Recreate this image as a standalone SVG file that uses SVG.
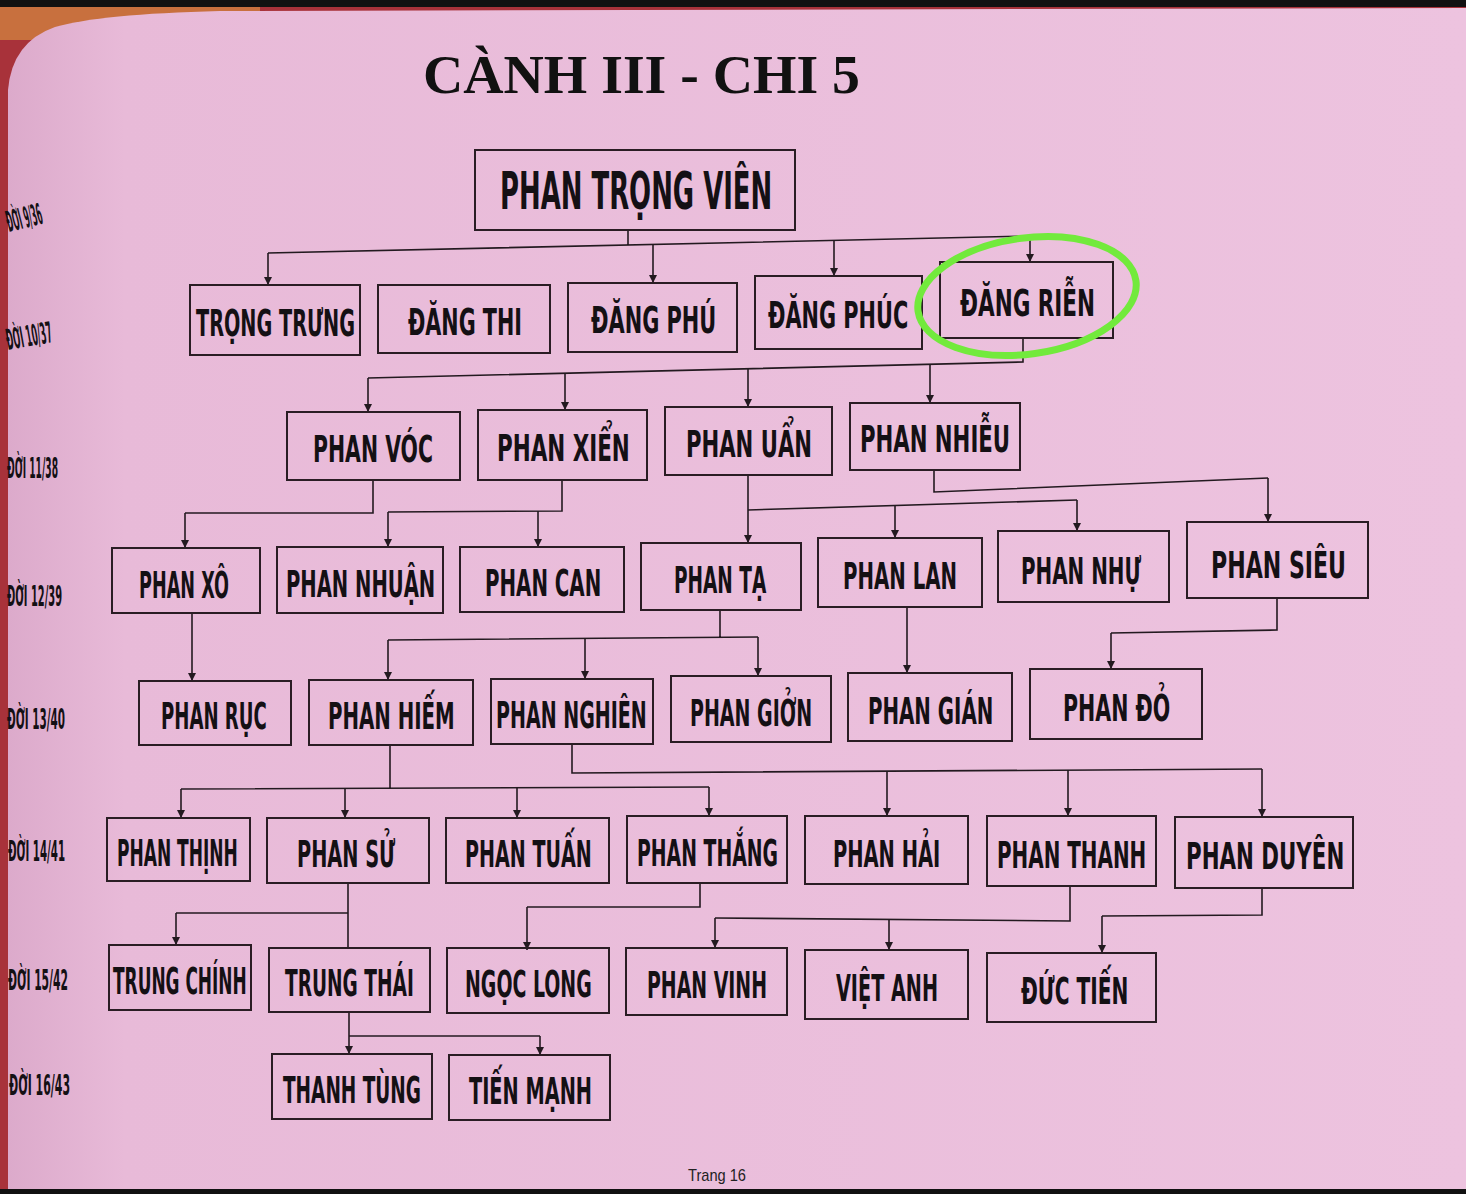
<svg xmlns="http://www.w3.org/2000/svg" width="1466" height="1194" viewBox="0 0 1466 1194">
<defs>
<style>
.box{fill:none;stroke:#2a1d24;stroke-width:2}
.n{font-family:"Liberation Sans Narrow","DejaVu Sans Condensed","Liberation Sans",sans-serif;font-weight:bold;font-size:37px;fill:#141014}
.g{font-family:"Liberation Sans Narrow","DejaVu Sans Condensed","Liberation Sans",sans-serif;font-weight:bold;font-size:29px;fill:#141014}
.c{fill:none;stroke:#231a20;stroke-width:1.6}
.a{fill:none;stroke:#231a20;stroke-width:1.6;marker-end:url(#ah)}
</style>
<marker id="ah" markerUnits="userSpaceOnUse" markerWidth="8" markerHeight="8" refX="8" refY="4" orient="auto">
<path d="M0,0 L8,4 L0,8 z" fill="#231a20"/>
</marker>
<linearGradient id="pg" x1="0" y1="0" x2="1" y2="0">
<stop offset="0" stop-color="#dcaacb"/>
<stop offset="0.08" stop-color="#e8bad8"/>
<stop offset="1" stop-color="#edc3df"/>
</linearGradient>
</defs>
<rect x="0" y="0" width="1466" height="1194" fill="#a8323a"/>
<path d="M0,0 H260 V40 H0 z" fill="#c8703e"/>
<path d="M8,1194 V90 Q12,42 55,27 Q100,14 220,11 L1466,8 V1194 z" fill="url(#pg)"/>
<rect x="0" y="0" width="1466" height="7" fill="#111"/>
<rect x="0" y="1189" width="1466" height="5" fill="#111"/>

<text x="423" y="93" textLength="437" lengthAdjust="spacingAndGlyphs" style="font-family:'Liberation Serif',serif;font-weight:bold;font-size:54px;fill:#111">CÀNH III - CHI 5</text>

<g id="labels">
<text class="g" transform="translate(9,232) rotate(-14) scale(0.5 1)" textLength="72" lengthAdjust="spacingAndGlyphs">ĐỜI 9/36</text>
<text class="g" transform="translate(8,350) rotate(-10) scale(0.5 1)" textLength="92" lengthAdjust="spacingAndGlyphs">ĐỜI 10/37</text>
<text class="g" transform="translate(7,478) scale(0.5 1)" textLength="102" lengthAdjust="spacingAndGlyphs">ĐỜI 11/38</text>
<text class="g" transform="translate(7,606) scale(0.5 1)" textLength="110" lengthAdjust="spacingAndGlyphs">ĐỜI 12/39</text>
<text class="g" transform="translate(7,729) scale(0.5 1)" textLength="116" lengthAdjust="spacingAndGlyphs">ĐỜI 13/40</text>
<text class="g" transform="translate(8,861) scale(0.5 1)" textLength="114" lengthAdjust="spacingAndGlyphs">ĐỜI 14/41</text>
<text class="g" transform="translate(8,990) scale(0.5 1)" textLength="120" lengthAdjust="spacingAndGlyphs">ĐỜI 15/42</text>
<text class="g" transform="translate(9,1095) scale(0.5 1)" textLength="122" lengthAdjust="spacingAndGlyphs">ĐỜI 16/43</text>
</g>

<g id="connectors">
<path class="c" d="M628,230 V245 M268,253 L1030,236"/>
<path class="a" d="M268,253 V285"/>
<path class="a" d="M653,244 V283"/>
<path class="a" d="M834,240 V276"/>
<path class="a" d="M1030,236 V262"/>

<path class="c" d="M1023,338 V362 L368,378"/>
<path class="a" d="M368,378 V412"/>
<path class="a" d="M565,373 V410"/>
<path class="a" d="M748,369 V407"/>
<path class="a" d="M930,364 V403"/>

<path class="c" d="M373,480 V513 H185"/>
<path class="a" d="M185,513 V548"/>
<path class="c" d="M562,480 V511 L388,512"/>
<path class="a" d="M388,512 V547"/>
<path class="a" d="M538,511 V547"/>
<path class="a" d="M748,475 V543"/>
<path class="c" d="M748,510 L1077,500"/>
<path class="a" d="M895,506 V538"/>
<path class="a" d="M1077,500 V531"/>
<path class="c" d="M934,470 V492 L1268,478"/>
<path class="a" d="M1268,478 V522"/>

<path class="a" d="M192,613 V681"/>
<path class="c" d="M720,610 V638 M388,640 L758,637"/>
<path class="a" d="M388,640 V680"/>
<path class="a" d="M585,638 V679"/>
<path class="a" d="M758,637 V676"/>
<path class="a" d="M907,607 V673"/>
<path class="c" d="M1277,598 V630 L1111,633"/>
<path class="a" d="M1111,633 V669"/>

<path class="c" d="M390,745 V789 M181,789 L709,787"/>
<path class="a" d="M181,789 V818"/>
<path class="a" d="M345,789 V818"/>
<path class="a" d="M517,788 V818"/>
<path class="a" d="M709,787 V816"/>
<path class="c" d="M572,744 V773 L1262,769"/>
<path class="a" d="M887,771 V816"/>
<path class="a" d="M1068,770 V816"/>
<path class="a" d="M1262,769 V817"/>

<path class="c" d="M348,883 V948 M348,913 H176"/>
<path class="a" d="M176,913 V945"/>
<path class="c" d="M700,883 V907 H527"/>
<path class="a" d="M527,907 V950"/>
<path class="c" d="M1070,886 V921 L715,918"/>
<path class="a" d="M715,918 V948"/>
<path class="a" d="M889,919 V950"/>
<path class="c" d="M1262,888 V915 L1102,916"/>
<path class="a" d="M1102,916 V953"/>

<path class="a" d="M349,1012 V1054"/>
<path class="c" d="M349,1036 H540"/>
<path class="a" d="M540,1036 V1055"/>
</g>

<g id="n-root"><rect class="box" x="475" y="150" width="320" height="80"/><text class="n" style="font-size:52px" transform="translate(500,209) scale(0.75 1)" textLength="363" lengthAdjust="spacingAndGlyphs">PHAN TRỌNG VIÊN</text></g>

<g id="n-trongtrung"><rect class="box" x="190" y="285" width="170" height="70"/><text class="n" transform="translate(196,336) scale(0.75 1)" textLength="212" lengthAdjust="spacingAndGlyphs">TRỌNG TRƯNG</text></g>
<g id="n-dangthi"><rect class="box" x="378" y="285" width="172" height="68"/><text class="n" transform="translate(408,335) scale(0.75 1)" textLength="152" lengthAdjust="spacingAndGlyphs">ĐĂNG THI</text></g>
<g id="n-dangphu"><rect class="box" x="568" y="283" width="169" height="69"/><text class="n" transform="translate(591,333) scale(0.75 1)" textLength="167" lengthAdjust="spacingAndGlyphs">ĐĂNG PHÚ</text></g>
<g id="n-dangphuc"><rect class="box" x="755" y="276" width="167" height="73"/><text class="n" transform="translate(768,328) scale(0.75 1)" textLength="187" lengthAdjust="spacingAndGlyphs">ĐĂNG PHÚC</text></g>
<g id="n-dangrien"><rect class="box" x="940" y="262" width="173" height="76"/><text class="n" transform="translate(960,316) scale(0.75 1)" textLength="180" lengthAdjust="spacingAndGlyphs">ĐĂNG RIỄN</text></g>
<ellipse cx="1027" cy="296" rx="110" ry="58" transform="rotate(-8 1027 296)" fill="none" stroke="#72ea3c" stroke-width="7"/>

<g id="n-phanvoc"><rect class="box" x="287" y="412" width="173" height="68"/><text class="n" transform="translate(313,462) scale(0.75 1)" textLength="160" lengthAdjust="spacingAndGlyphs">PHAN VÓC</text></g>
<g id="n-phanxien"><rect class="box" x="478" y="410" width="169" height="70"/><text class="n" transform="translate(497,461) scale(0.75 1)" textLength="177" lengthAdjust="spacingAndGlyphs">PHAN XIỂN</text></g>
<g id="n-phanuan"><rect class="box" x="665" y="407" width="167" height="68"/><text class="n" transform="translate(686,457) scale(0.75 1)" textLength="168" lengthAdjust="spacingAndGlyphs">PHAN UẨN</text></g>
<g id="n-phannhieu"><rect class="box" x="850" y="403" width="170" height="67"/><text class="n" transform="translate(860,452) scale(0.75 1)" textLength="200" lengthAdjust="spacingAndGlyphs">PHAN NHIỄU</text></g>

<g id="n-phanxo"><rect class="box" x="112" y="548" width="148" height="65"/><text class="n" transform="translate(139,598) scale(0.75 1)" textLength="120" lengthAdjust="spacingAndGlyphs">PHAN XÔ</text></g>
<g id="n-phannhuan"><rect class="box" x="277" y="547" width="166" height="66"/><text class="n" transform="translate(286,597) scale(0.75 1)" textLength="199" lengthAdjust="spacingAndGlyphs">PHAN NHUẬN</text></g>
<g id="n-phancan"><rect class="box" x="460" y="547" width="164" height="65"/><text class="n" transform="translate(485,596) scale(0.75 1)" textLength="155" lengthAdjust="spacingAndGlyphs">PHAN CAN</text></g>
<g id="n-phanta"><rect class="box" x="641" y="543" width="160" height="67"/><text class="n" transform="translate(674,593) scale(0.75 1)" textLength="123" lengthAdjust="spacingAndGlyphs">PHAN TẠ</text></g>
<g id="n-phanlan"><rect class="box" x="818" y="538" width="164" height="69"/><text class="n" transform="translate(843,589) scale(0.75 1)" textLength="152" lengthAdjust="spacingAndGlyphs">PHAN LAN</text></g>
<g id="n-phannhu"><rect class="box" x="998" y="531" width="171" height="71"/><text class="n" transform="translate(1021,584) scale(0.75 1)" textLength="160" lengthAdjust="spacingAndGlyphs">PHAN NHỰ</text></g>
<g id="n-phansieu"><rect class="box" x="1187" y="522" width="181" height="76"/><text class="n" transform="translate(1211,578) scale(0.75 1)" textLength="180" lengthAdjust="spacingAndGlyphs">PHAN SIÊU</text></g>

<g id="n-phanruc"><rect class="box" x="139" y="681" width="152" height="64"/><text class="n" transform="translate(161,729) scale(0.75 1)" textLength="141" lengthAdjust="spacingAndGlyphs">PHAN RỤC</text></g>
<g id="n-phanhiem"><rect class="box" x="309" y="680" width="164" height="65"/><text class="n" transform="translate(328,729) scale(0.75 1)" textLength="169" lengthAdjust="spacingAndGlyphs">PHAN HIẾM</text></g>
<g id="n-phannghien"><rect class="box" x="491" y="679" width="162" height="65"/><text class="n" transform="translate(496,728) scale(0.75 1)" textLength="201" lengthAdjust="spacingAndGlyphs">PHAN NGHIÊN</text></g>
<g id="n-phangion"><rect class="box" x="671" y="676" width="160" height="66"/><text class="n" transform="translate(690,726) scale(0.75 1)" textLength="163" lengthAdjust="spacingAndGlyphs">PHAN GIỞN</text></g>
<g id="n-phangian"><rect class="box" x="848" y="673" width="164" height="68"/><text class="n" transform="translate(868,724) scale(0.75 1)" textLength="167" lengthAdjust="spacingAndGlyphs">PHAN GIÁN</text></g>
<g id="n-phando"><rect class="box" x="1030" y="669" width="172" height="70"/><text class="n" transform="translate(1063,721) scale(0.75 1)" textLength="143" lengthAdjust="spacingAndGlyphs">PHAN ĐỎ</text></g>

<g id="n-phanthinh"><rect class="box" x="107" y="818" width="143" height="63"/><text class="n" transform="translate(117,866) scale(0.75 1)" textLength="161" lengthAdjust="spacingAndGlyphs">PHAN THỊNH</text></g>
<g id="n-phansu"><rect class="box" x="267" y="818" width="162" height="65"/><text class="n" transform="translate(297,867) scale(0.75 1)" textLength="131" lengthAdjust="spacingAndGlyphs">PHAN SỬ</text></g>
<g id="n-phantuan"><rect class="box" x="446" y="818" width="163" height="65"/><text class="n" transform="translate(465,867) scale(0.75 1)" textLength="169" lengthAdjust="spacingAndGlyphs">PHAN TUẤN</text></g>
<g id="n-phanthang"><rect class="box" x="627" y="816" width="160" height="67"/><text class="n" transform="translate(637,866) scale(0.75 1)" textLength="188" lengthAdjust="spacingAndGlyphs">PHAN THẮNG</text></g>
<g id="n-phanhai"><rect class="box" x="805" y="816" width="163" height="68"/><text class="n" transform="translate(833,867) scale(0.75 1)" textLength="143" lengthAdjust="spacingAndGlyphs">PHAN HẢI</text></g>
<g id="n-phanthanh"><rect class="box" x="987" y="816" width="169" height="70"/><text class="n" transform="translate(997,868) scale(0.75 1)" textLength="199" lengthAdjust="spacingAndGlyphs">PHAN THANH</text></g>
<g id="n-phanduyen"><rect class="box" x="1175" y="817" width="178" height="71"/><text class="n" transform="translate(1186,869) scale(0.75 1)" textLength="211" lengthAdjust="spacingAndGlyphs">PHAN DUYÊN</text></g>

<g id="n-trungchinh"><rect class="box" x="109" y="945" width="142" height="65"/><text class="n" transform="translate(113,994) scale(0.64 1)" textLength="209" lengthAdjust="spacingAndGlyphs">TRUNG CHÍNH</text></g>
<g id="n-trungthai"><rect class="box" x="269" y="948" width="161" height="64"/><text class="n" transform="translate(285,996) scale(0.7 1)" textLength="184" lengthAdjust="spacingAndGlyphs">TRUNG THÁI</text></g>
<g id="n-ngoclong"><rect class="box" x="447" y="948" width="162" height="65"/><text class="n" transform="translate(465,997) scale(0.75 1)" textLength="169" lengthAdjust="spacingAndGlyphs">NGỌC LONG</text></g>
<g id="n-phanvinh"><rect class="box" x="626" y="948" width="161" height="67"/><text class="n" transform="translate(647,998) scale(0.75 1)" textLength="160" lengthAdjust="spacingAndGlyphs">PHAN VINH</text></g>
<g id="n-vietanh"><rect class="box" x="805" y="950" width="163" height="69"/><text class="n" transform="translate(836,1001) scale(0.75 1)" textLength="136" lengthAdjust="spacingAndGlyphs">VIỆT ANH</text></g>
<g id="n-ductien"><rect class="box" x="987" y="953" width="169" height="69"/><text class="n" transform="translate(1021,1004) scale(0.75 1)" textLength="143" lengthAdjust="spacingAndGlyphs">ĐỨC TIẾN</text></g>

<g id="n-thanhtung"><rect class="box" x="272" y="1054" width="160" height="65"/><text class="n" transform="translate(283,1103) scale(0.75 1)" textLength="184" lengthAdjust="spacingAndGlyphs">THANH TÙNG</text></g>
<g id="n-tienmanh"><rect class="box" x="449" y="1055" width="161" height="65"/><text class="n" transform="translate(469,1104) scale(0.75 1)" textLength="164" lengthAdjust="spacingAndGlyphs">TIẾN MẠNH</text></g>

<text x="688" y="1181" textLength="58" lengthAdjust="spacingAndGlyphs" style="font-family:'Liberation Sans Narrow','Liberation Sans',sans-serif;font-size:17px;fill:#222">Trang 16</text>
</svg>
